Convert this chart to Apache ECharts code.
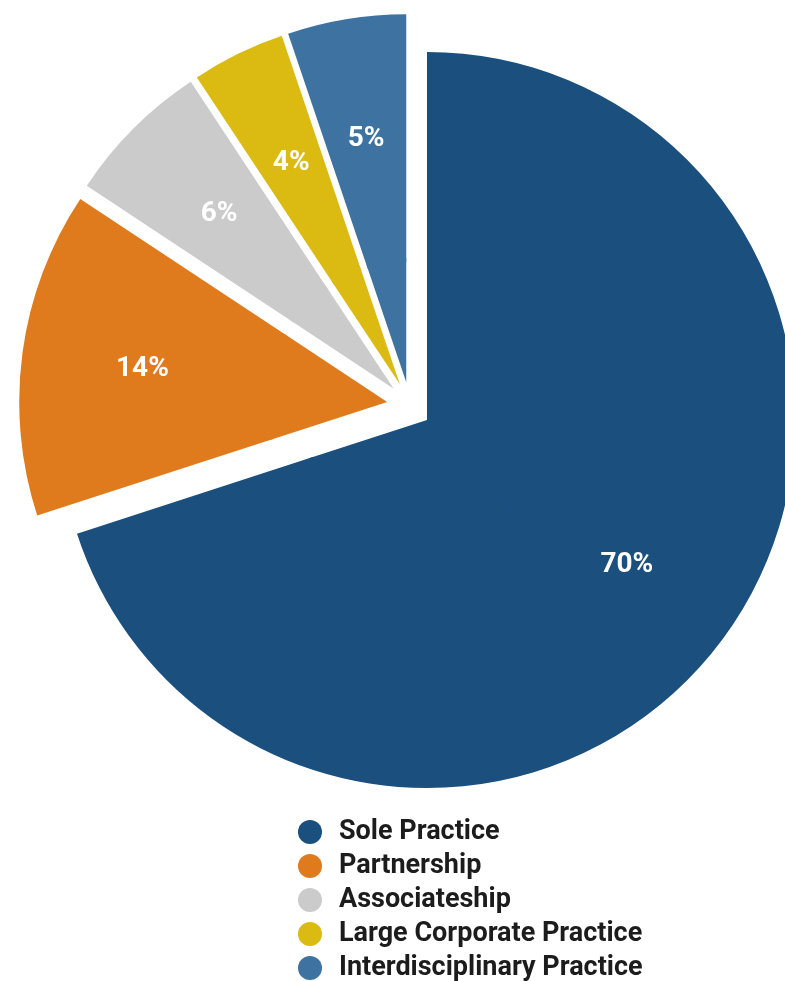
<!DOCTYPE html>
<html>
<head>
<meta charset="utf-8">
<script src="https://cdn.jsdelivr.net/npm/echarts@6/dist/echarts.min.js"></script>
<style>
  html, body { margin: 0; padding: 0; background: #fff; }
  #chart { width: 785px; height: 981px; }
</style>
</head>
<body>
<div id="chart"></div>
<script>
// datos
const categories = ['Sole Practice', 'Partnership', 'Associateship', 'Large Corporate Practice', 'Interdisciplinary Practice'];
const values = [70, 14.3, 6.4, 4.1, 5.2]; // ángulos medidos, etiquetas redondeadas
const colors = ['#1a4f7e', '#e07b1d', '#cacbca', '#dbbb12', '#3e72a0'];

const R = 368;        // radio
const R_HOLE = 120;   // radio interior del anillo (para subir las etiquetas)
const mainCenter = [427, 420];
const groupCenter = [410, 405];

// construir datos: "onlyMain" = solo la porción grande visible
const buildData = (onlyMain) => categories.map((name, i) => {
  const visible = onlyMain ? i === 0 : i !== 0;
  return {
    name,
    value: values[i],
    selected: !onlyMain && i !== 0,
    itemStyle: { color: visible ? colors[i] : 'rgba(0,0,0,0)' },
    label: { show: visible }
  };
});

const baseSeries = (center, radius, onlyMain, withLabel) => ({
  type: 'pie',
  center,
  radius,
  startAngle: 90,
  clockwise: true,
  silent: true,
  animation: false,
  selectedMode: 'multiple',
  selectedOffset: 23,
  avoidLabelOverlap: false,
  emphasis: { disabled: true },
  labelLine: { show: false },
  label: withLabel ? {
    position: 'inside',
    color: '#fff',
    fontFamily: 'Roboto',
    fontWeight: 'bold',
    fontSize: 28,
    formatter: (p) => Math.round(p.value) + '%'
  } : { show: false },
  data: buildData(onlyMain).map(d => withLabel ? d : Object.assign({}, d, { label: { show: false } }))
});

const chart = echarts.init(document.getElementById('chart'));
chart.setOption({
  backgroundColor: '#fff',
  legend: {
    orient: 'vertical',
    left: 298,
    top: 818,
    height: 300,
    padding: 0,
    icon: 'circle',
    itemWidth: 24,
    itemHeight: 24,
    itemGap: 6,
    selectedMode: false,
    textStyle: { fontFamily: 'Roboto', fontWeight: 'bold', fontSize: 27, lineHeight: 28, color: '#1c1c1c', padding: [0, 0, 0, 12] },
    data: categories.map((name, i) => ({ name, itemStyle: { color: colors[i] } }))
  },
  series: [
    baseSeries(mainCenter, [0, R_HOLE + 4], true, false),
    baseSeries(mainCenter, [R_HOLE, R], true, true),
    baseSeries(groupCenter, [0, R_HOLE + 4], false, false),
    baseSeries(groupCenter, [R_HOLE, R], false, true)
  ]
});
</script>
</body>
</html>
